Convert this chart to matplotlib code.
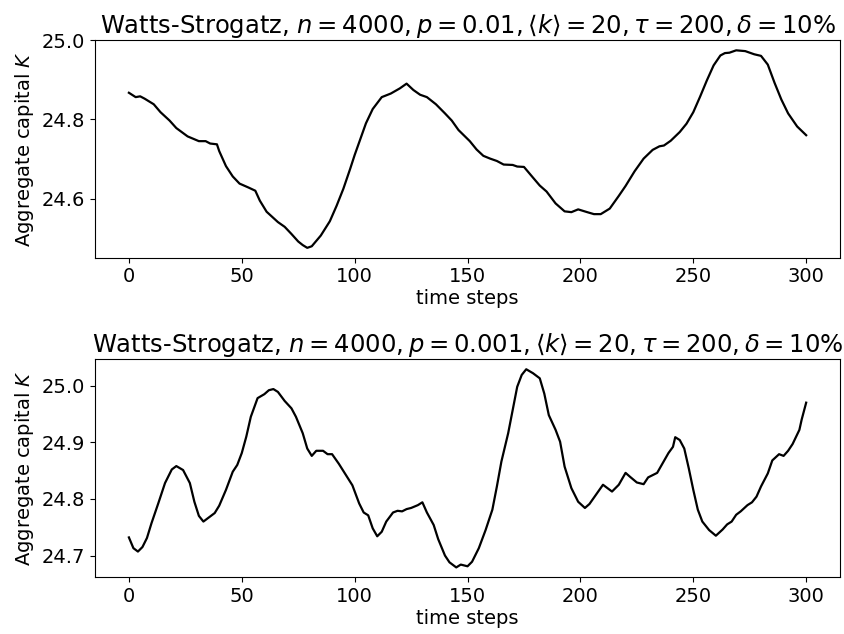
import matplotlib
matplotlib.use("Agg")
import matplotlib.pyplot as plt

# (time step, aggregate capital)
t_top = [0, 3, 5, 7, 11, 14, 18, 21, 26, 31, 34, 36, 39, 40, 43, 46, 49, 53, 56, 58,
         61, 66, 69, 72, 75, 77, 79, 81, 85, 89, 92, 95, 98, 100, 105, 108, 112, 116,
         120, 123, 126, 129, 132, 136, 140, 143, 146, 151, 154, 157, 160, 163, 166,
         170, 172, 175, 179, 182, 185, 189, 193, 196, 199, 203, 206, 209, 213, 217,
         220, 224, 228, 232, 235, 237, 240, 244, 247, 250, 253, 256, 259, 262, 264,
         266, 269, 273, 277, 280, 283, 286, 289, 292, 296, 300]
k_top = [24.867, 24.856, 24.858, 24.852, 24.838, 24.818, 24.797, 24.778, 24.757, 24.745,
         24.745, 24.739, 24.737, 24.720, 24.682, 24.656, 24.638, 24.628, 24.620, 24.595,
         24.567, 24.541, 24.529, 24.511, 24.492, 24.483, 24.476, 24.480, 24.507, 24.543,
         24.582, 24.625, 24.675, 24.710, 24.790, 24.826, 24.856, 24.865, 24.878, 24.890,
         24.874, 24.862, 24.856, 24.838, 24.815, 24.797, 24.773, 24.745, 24.724, 24.708,
         24.701, 24.695, 24.686, 24.685, 24.681, 24.680, 24.653, 24.633, 24.618, 24.588,
         24.568, 24.566, 24.573, 24.566, 24.561, 24.561, 24.575, 24.607, 24.632, 24.669,
         24.701, 24.723, 24.732, 24.734, 24.746, 24.768, 24.789, 24.818, 24.857, 24.898,
         24.936, 24.961, 24.967, 24.968, 24.974, 24.972, 24.964, 24.960, 24.938, 24.892,
         24.850, 24.815, 24.782, 24.760]

t_bot = [0, 2, 4, 6, 8, 10, 13, 16, 19, 21, 24, 27, 29, 31, 33, 36, 38, 40, 43, 46,
         48, 50, 52, 54, 57, 60, 62, 64, 66, 69, 72, 74, 77, 79, 81, 83, 86, 88, 90,
         93, 96, 99, 102, 104, 106, 108, 110, 112, 114, 117, 119, 121, 123, 125, 128,
         130, 132, 135, 137, 140, 142, 145, 147, 150, 152, 155, 158, 161, 163, 165,
         168, 170, 172, 174, 176, 179, 182, 184, 186, 189, 191, 193, 196, 199, 202,
         204, 207, 210, 212, 214, 217, 220, 222, 225, 228, 230, 234, 236, 239, 241,
         242, 244, 246, 248, 250, 252, 254, 257, 260, 263, 265, 267, 269, 271, 274,
         276, 278, 280, 283, 285, 288, 290, 292, 294, 297, 298, 300]
k_bot = [24.732, 24.713, 24.707, 24.715, 24.731, 24.757, 24.792, 24.828, 24.852, 24.858,
         24.851, 24.828, 24.795, 24.770, 24.760, 24.769, 24.775, 24.788, 24.816, 24.848,
         24.860, 24.881, 24.910, 24.945, 24.978, 24.985, 24.992, 24.994, 24.989, 24.973,
         24.960, 24.945, 24.916, 24.889, 24.876, 24.885, 24.885, 24.879, 24.879, 24.862,
         24.843, 24.824, 24.792, 24.776, 24.771, 24.748, 24.734, 24.742, 24.760, 24.776,
         24.779, 24.778, 24.782, 24.784, 24.789, 24.794, 24.776, 24.754, 24.729, 24.700,
         24.688, 24.679, 24.684, 24.681, 24.689, 24.713, 24.745, 24.781, 24.822, 24.866,
         24.916, 24.957, 24.998, 25.019, 25.029, 25.022, 25.013, 24.986, 24.948, 24.922,
         24.901, 24.857, 24.819, 24.795, 24.784, 24.791, 24.808, 24.825, 24.819, 24.813,
         24.825, 24.846, 24.839, 24.829, 24.826, 24.838, 24.846, 24.860, 24.881, 24.892,
         24.909, 24.904, 24.889, 24.854, 24.816, 24.781, 24.760, 24.745, 24.735, 24.746,
         24.755, 24.760, 24.772, 24.778, 24.789, 24.794, 24.804, 24.822, 24.845, 24.868,
         24.879, 24.876, 24.885, 24.897, 24.922, 24.940, 24.970]

titles = [r"Watts-Strogatz, $n=4000, p=0.01, \langle k\rangle=20, \tau=200, \delta=10\%$",
          r"Watts-Strogatz, $n=4000, p=0.001, \langle k\rangle=20, \tau=200, \delta=10\%$"]
yticks = [[24.6, 24.8, 25.0], [24.7, 24.8, 24.9, 25.0]]

fig = plt.figure(figsize=(8.44, 6.34), dpi=100)
ax1 = fig.add_axes([0.1126, 0.5935, 0.8827, 0.3434])
ax2 = fig.add_axes([0.1126, 0.0894, 0.8827, 0.3438])

for ax, t, k, title, yt in [(ax1, t_top, k_top, titles[0], yticks[0]),
                            (ax2, t_bot, k_bot, titles[1], yticks[1])]:
    ax.plot(t, k, color="black", lw=1.6)
    ax.set_title(title, fontsize=17.5, pad=5)
    ax.set_xlabel("time steps", fontsize=14, labelpad=2)
    ax.set_ylabel(r"Aggregate capital $K$", fontsize=14)
    ax.set_xticks([0, 50, 100, 150, 200, 250, 300])
    ax.set_yticks(yt)
    ax.tick_params(labelsize=14)

fig.savefig("out.png", dpi=100)
